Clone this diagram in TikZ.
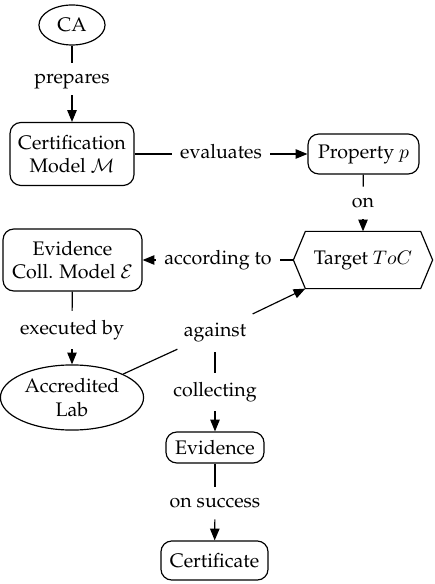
\documentclass[tikz,border=0pt]{standalone}
\usepackage[T1]{fontenc}
\usepackage{palatino}
\usetikzlibrary{shapes.geometric,arrows.meta}
\begin{document}
\begin{tikzpicture}[x=0.51pt,y=-0.51pt,semithick,
  box/.style={draw,rounded corners=5.5pt,align=center,inner sep=2pt},
  oval/.style={draw,ellipse,align=center,inner sep=1pt},
  lbl/.style={inner xsep=4pt,inner ysep=3.5pt,text height=7pt,text depth=2pt},
  arr/.style={-{Triangle[length=6pt,width=4.8pt]}}]
\useasboundingbox (0,0) rectangle (434,584);
% main nodes
\node[oval,minimum width=33.7pt,minimum height=20.4pt] (ca) at (72,25) {CA};
\node[box,minimum width=63.2pt,minimum height=32.1pt] (cm) at (72,154) {Certification\\Model $\mathcal{M}$};
\node[box,minimum width=56.6pt,minimum height=20.4pt] (prop) at (363.5,154) {Property $p$};
\node[minimum width=70.4pt,minimum height=28.6pt] (tgt) at (363,260) {Target $ToC$};
\draw ([xshift=6.1pt]tgt.north west) -- ([xshift=-6.1pt]tgt.north east) -- (tgt.east)
  -- ([xshift=-6.1pt]tgt.south east) -- ([xshift=6.1pt]tgt.south west) -- (tgt.west) -- cycle;
\coordinate (tgtsw) at ([xshift=6.1pt]tgt.south west);
\node[box,minimum width=70.9pt,minimum height=31.6pt] (ecm) at (72.5,260) {Evidence\\Coll. Model $\mathcal{E}$};
\node[oval,minimum width=73pt,minimum height=33.2pt] (lab) at (72,397.5) {Accredited\\Lab};
\node[box,minimum width=50pt,minimum height=15.8pt] (ev) at (215,447.5) {Evidence};
\node[box,minimum width=54.6pt,minimum height=19.9pt] (cert) at (214.5,560.5) {Certificate};
% labels
\node[lbl] (prep) at (72,79) {prepares};
\node[lbl] (eval) at (221,154) {evaluates};
\node[lbl] (on) at (363,203) {on};
\node[lbl] (acc) at (218,260) {according to};
\node[lbl,inner ysep=5pt] (exec) at (72,330) {executed by};
\node[lbl,inner xsep=3pt,inner ysep=5.5pt] (against) at (215,332) {against};
\node[lbl,inner ysep=5pt] (coll) at (215,392) {collecting};
\node[lbl] (succ) at (215,503) {on success};
% connectors
\draw (ca) -- (prep); \draw[arr] (prep) -- (cm);
\draw (cm) -- (eval); \draw[arr] (eval) -- (prop);
\draw (prop) -- (on); \draw[arr] (on) -- (tgt);
\draw (tgt) -- (acc); \draw[arr] (acc) -- (ecm);
\draw (ecm) -- (exec); \draw[arr] (exec) -- (lab);
\draw (lab) -- (against); \draw[arr] (against) -- (tgtsw);
\draw (against) -- (coll); \draw[arr] (coll) -- (ev);
\draw (ev) -- (succ); \draw[arr] (succ) -- (cert);
\end{tikzpicture}
\end{document}
